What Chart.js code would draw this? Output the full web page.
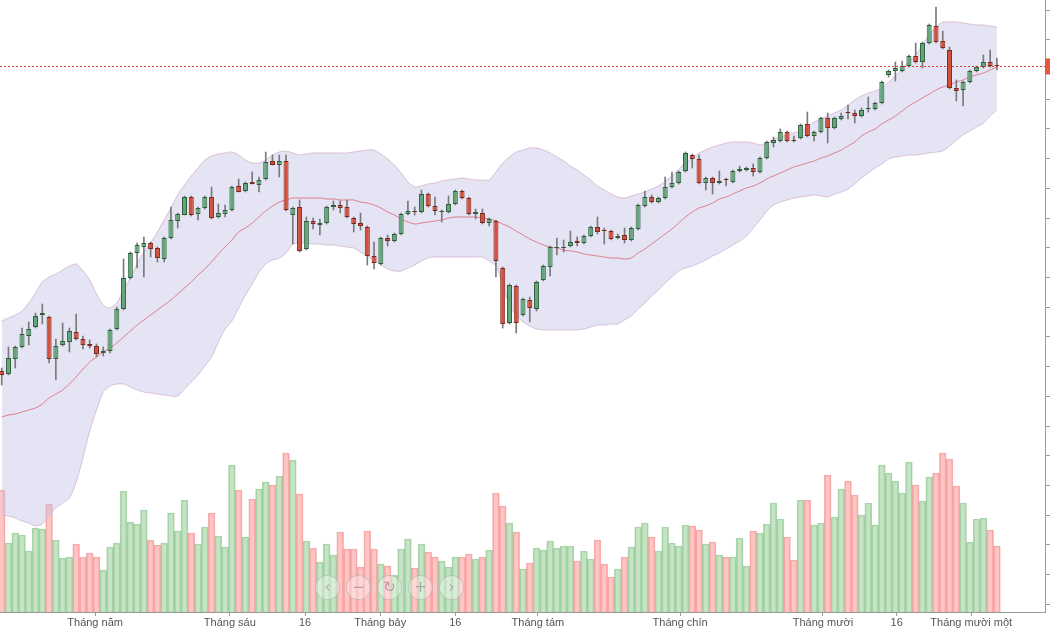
<!DOCTYPE html>
<html><head><meta charset="utf-8">
<script src="https://cdn.jsdelivr.net/npm/chart.js@4.4.1/dist/chart.umd.min.js"></script>
<style>
html,body{margin:0;padding:0;background:#fff;overflow:hidden;}
#wrap{position:relative;width:1050px;height:630px;}
canvas{display:block;}
.nav{position:absolute;top:575px;width:23px;height:23px;border-radius:50%;border:1px solid rgba(150,150,150,0.45);background:rgba(255,255,255,0.35);color:rgba(120,120,120,0.55);font:15px "DejaVu Sans",sans-serif;text-align:center;line-height:22px;}
</style></head>
<body><div id="wrap"><canvas id="c" width="1050" height="630"></canvas>
<div class="nav" style="left:315px">‹</div>
<div class="nav" style="left:346px">−</div>
<div class="nav" style="left:377px">↻</div>
<div class="nav" style="left:408px">+</div>
<div class="nav" style="left:439px">›</div>
</div>
<script>
const OPEN = [32.9,32.6,34.1,35.3,36.4,37.3,38.5,38.3,34.1,35.5,
35.8,36.8,36.1,35.6,35.4,34.7,34.9,37.1,39.1,42.2,
44.7,45.3,45.7,45.2,44.1,46.2,47.9,48.5,50.3,48.6,
49.2,50.3,48.3,48.6,49.0,51.4,50.9,51.8,51.5,52.1,
53.9,53.5,53.9,48.5,49.3,45.1,47.9,47.5,47.7,49.3,
49.5,49.3,48.2,47.7,47.3,44.4,43.6,46.2,45.9,46.6,
48.6,48.9,48.8,50.6,49.4,48.8,48.8,49.6,50.9,50.2,
48.6,48.7,47.7,47.9,43.2,37.7,41.4,38.5,40.0,39.1,
42.0,43.3,45.2,45.2,45.4,45.9,45.7,46.4,47.3,47.0,
46.9,46.2,46.5,46.0,47.1,49.4,50.3,49.8,50.2,51.3,
51.7,52.9,54.5,54.1,51.7,52.2,51.7,52.1,51.8,52.9,
53.0,53.2,52.8,54.2,55.7,55.9,56.8,56.0,56.2,57.6,
56.4,56.8,58.2,57.2,58.1,58.8,58.7,58.4,59.1,59.1,
59.7,62.5,62.9,62.9,63.4,64.4,63.8,65.7,67.4,65.9,
65.0,61.2,61.0,61.8,62.9,63.3,63.8,63.5];
const CLOSE = [32.5,34.2,35.3,36.6,37.1,38.4,38.7,34.1,35.4,35.9,
36.9,36.1,35.5,35.4,34.6,34.9,37.0,39.1,42.2,44.7,
45.5,45.7,45.1,44.2,46.2,48.0,48.6,50.3,48.5,49.2,
50.3,48.2,48.7,49.0,51.3,50.8,51.7,51.6,52.0,53.8,
53.5,53.9,49.0,49.2,44.9,47.9,47.6,47.7,49.3,49.5,
49.2,48.3,47.6,47.4,44.4,43.7,46.2,45.9,46.6,48.6,
48.9,48.8,50.6,49.4,48.9,48.9,49.6,50.9,50.2,48.6,
48.8,47.7,48.1,43.9,37.6,41.5,37.7,40.1,39.2,41.8,
43.4,45.3,45.3,45.3,45.8,45.7,46.4,47.3,46.8,46.9,
46.1,46.4,46.0,47.2,49.5,50.3,49.8,50.2,51.3,51.7,
52.8,54.7,54.1,51.7,52.2,51.7,51.9,52.0,52.9,53.1,
53.2,52.8,54.2,55.8,56.0,56.8,55.9,55.9,57.5,56.4,
56.8,58.2,57.2,58.2,58.4,58.7,58.4,59.0,59.2,59.7,
61.8,62.9,63.2,63.4,64.4,63.8,65.7,67.5,65.8,65.2,
61.2,60.9,61.8,62.9,63.3,63.8,63.4,63.4];
const HIGH = [33.2,35.3,35.4,37.2,37.8,38.7,39.6,38.4,36.1,37.7,
37.2,38.6,36.4,36.0,35.6,35.3,37.1,39.3,44.1,44.8,
45.7,46.3,45.8,45.3,46.3,49.3,48.7,50.4,50.4,49.3,
50.4,51.3,49.6,49.5,51.4,52.1,51.8,52.8,52.3,54.8,
54.5,54.5,54.5,49.3,50.0,48.3,48.2,48.1,49.4,49.9,
49.9,50.0,48.3,48.7,47.4,45.8,46.3,46.5,46.7,48.7,
49.9,49.3,51.0,50.7,50.3,49.0,50.4,51.0,51.0,50.3,
49.1,49.1,48.2,48.0,43.3,41.6,41.5,40.2,40.3,41.9,
43.5,45.4,46.2,46.0,46.9,46.3,46.5,47.4,48.3,47.2,
47.0,46.6,47.2,47.3,49.6,50.9,50.5,50.3,52.3,52.8,
52.9,54.8,54.6,54.5,52.3,52.3,52.9,52.2,53.0,53.4,
53.3,53.6,54.3,55.9,56.3,57.1,56.9,56.4,57.6,58.8,
56.9,58.3,58.7,58.3,58.7,59.5,59.0,59.2,60.3,59.8,
61.9,63.0,63.8,63.9,64.5,65.7,65.8,67.6,69.3,66.9,
65.3,62.0,61.9,63.0,63.4,64.5,65.0,64.2];
const LOW = [31.5,32.5,33.2,35.2,35.5,37.2,37.6,33.7,32.0,35.4,
34.8,36.0,35.1,35.2,34.3,34.4,34.7,37.0,39.0,42.1,
43.2,42.3,44.3,43.8,43.8,46.1,47.2,48.5,48.4,48.0,
49.1,48.1,48.2,48.3,48.9,50.8,50.8,51.6,50.8,52.0,
53.5,52.3,48.9,45.6,44.8,45.0,47.1,46.5,47.6,49.0,
48.7,48.2,46.8,47.0,43.5,43.1,43.5,45.4,45.8,46.5,
48.5,48.5,48.7,49.3,48.5,47.8,48.7,49.5,50.1,48.5,
48.1,47.6,47.4,42.3,37.2,37.6,36.7,38.4,37.8,38.9,
41.9,42.4,44.5,44.8,45.3,45.4,45.6,46.3,46.6,45.6,
46.0,46.1,45.7,45.9,47.0,49.3,49.7,49.7,50.1,51.2,
51.6,52.8,53.2,51.6,51.0,50.6,51.6,51.4,51.7,52.8,
52.9,52.4,52.7,54.1,55.3,55.8,55.8,55.8,56.1,56.3,
55.9,56.7,55.7,57.1,58.0,58.1,57.7,58.3,58.8,59.0,
59.6,62.3,61.9,62.8,63.3,63.7,63.2,65.6,65.7,65.1,
61.1,59.9,59.4,61.7,62.8,63.2,63.3,63.0];
const VOLUME = [1220,690,790,770,610,840,830,1080,720,540,
550,680,550,590,550,420,650,690,1210,900,
880,1020,720,670,690,990,810,1120,790,680,
850,990,760,650,1470,1220,750,1130,1230,1300,
1270,1360,1590,1520,1180,710,640,500,680,570,
800,630,630,450,810,630,480,460,370,630,
730,440,680,600,550,510,450,550,550,580,
530,550,620,1190,1060,890,800,430,490,640,
620,710,640,660,660,510,610,530,720,480,
350,430,550,650,850,890,750,610,850,690,
660,870,860,820,680,700,570,550,550,740,
460,810,790,880,1090,930,750,520,1120,1120,
870,890,1370,950,1230,1310,1170,970,1090,870,
1470,1390,1310,1190,1500,1270,1110,1350,1390,1590,
1530,1260,1090,700,930,940,820,660];
const BB_UPPER = [37.9,38.2,38.5,38.9,39.7,40.7,41.8,42.3,42.6,43.0,
43.4,43.6,42.9,42.0,40.6,39.5,39.2,39.7,41.0,42.2,
43.6,44.8,45.7,46.8,48.0,49.2,50.5,51.5,52.4,53.2,
54.0,54.4,54.6,54.7,54.8,54.5,54.0,53.7,53.7,54.0,
54.5,54.8,54.9,54.7,54.5,54.6,54.7,54.7,54.7,54.7,
54.7,54.7,54.8,54.9,55.0,55.0,54.6,54.1,53.5,52.7,
51.8,51.3,51.4,51.6,51.7,51.9,52.0,52.1,52.2,52.1,
52.0,52.0,52.0,52.8,53.7,54.3,54.8,55.0,55.2,55.2,
55.0,54.7,54.3,53.9,53.4,53.0,52.5,52.0,51.4,51.0,
50.6,50.3,50.2,50.4,50.6,50.8,51.1,51.4,51.9,52.4,
53.1,53.7,54.2,54.7,55.0,55.3,55.5,55.7,55.8,55.8,
55.8,55.7,55.5,55.7,56.1,56.3,56.5,56.7,56.9,57.3,
57.8,58.1,58.4,58.7,59.0,59.5,60.0,60.4,60.7,60.9,
61.2,61.8,62.4,63.1,63.9,64.5,65.5,66.5,67.3,67.8,
67.8,67.8,67.7,67.6,67.5,67.5,67.4,67.3];
const BB_MIDDLE = [28.3,28.5,28.6,28.8,29.0,29.2,29.6,30.2,30.6,31.0,
31.6,32.3,33.1,33.8,34.3,34.8,35.2,35.7,36.3,36.9,
37.5,38.0,38.5,39.0,39.5,40.0,40.6,41.2,41.8,42.5,
43.1,43.8,44.6,45.3,46.0,46.8,47.2,47.7,48.3,48.9,
49.4,49.8,50.0,50.2,50.2,50.2,50.2,50.2,50.1,50.1,
50.0,50.0,50.0,49.8,49.7,49.5,49.2,48.8,48.5,48.1,
47.8,47.6,47.7,47.8,47.9,48.0,48.2,48.3,48.3,48.3,
48.3,48.2,48.1,47.9,47.6,47.3,46.9,46.5,46.1,45.8,
45.5,45.3,45.2,45.0,44.9,44.8,44.6,44.5,44.4,44.3,
44.2,44.2,44.1,44.2,44.7,45.1,45.6,46.1,46.6,47.1,
47.7,48.3,48.8,49.2,49.4,49.7,50.1,50.3,50.6,50.9,
51.2,51.4,51.7,52.1,52.4,52.7,53.0,53.3,53.5,53.7,
53.9,54.2,54.4,54.7,55.0,55.4,55.8,56.4,56.8,57.1,
57.6,58.0,58.4,58.9,59.4,59.8,60.2,60.6,61.0,61.3,
61.5,61.8,62.0,62.3,62.5,62.7,63.0,63.3];
const BB_LOWER = [18.5,18.4,18.2,17.9,17.7,17.4,17.6,18.5,19.2,19.7,
20.2,21.8,24.2,26.9,29.0,30.8,31.4,31.6,31.6,31.3,
31.0,30.8,30.7,30.6,30.5,30.4,30.4,31.1,31.8,32.5,
33.4,34.3,35.8,37.1,37.9,39.2,40.5,41.6,42.8,43.6,
44.0,44.2,44.7,45.6,45.7,45.7,45.6,45.6,45.5,45.5,
45.4,45.3,45.2,44.8,44.4,44.0,43.5,43.1,42.9,42.9,
43.2,43.5,43.9,44.2,44.3,44.3,44.3,44.3,44.3,44.3,
44.3,44.3,43.9,43.4,41.5,39.5,38.5,37.8,37.4,37.1,
37.0,37.0,37.0,37.0,37.0,37.0,37.1,37.3,37.5,37.5,
37.6,37.6,38.0,38.4,39.1,39.7,40.4,41.0,41.7,42.3,
42.9,43.2,43.4,43.7,44.0,44.4,44.7,45.1,45.5,45.9,
46.4,47.2,48.0,48.9,49.5,49.8,50.0,50.2,50.3,50.4,
50.5,50.4,50.3,50.6,50.8,51.1,51.6,52.2,52.7,53.2,
53.6,54.1,54.3,54.4,54.5,54.5,54.6,54.7,54.8,54.9,
55.4,56.0,56.5,56.9,57.3,57.7,58.4,59.0];
const X_TICK_POS = [13.8, 33.7, 44.8, 55.9, 67.0, 79.2, 100.2, 121.3, 132.2, 143.2];
const X_TICK_LABELS = ['Tháng năm','Tháng sáu','16','Tháng bảy','16','Tháng tám','Tháng chín','Tháng mười','16','Tháng mười một'];

const DAY = OPEN.map((_, i) => i);
const up = i => CLOSE[i] >= OPEN[i];
const lastClose = CLOSE[CLOSE.length - 1];

const priceLine = {
  id: 'priceLine',
  afterDatasetsDraw(chart) {
    const c = chart.ctx, a = chart.chartArea;
    const y = Math.round(chart.scales.y.getPixelForValue(lastClose)) + 0.5;
    c.save();
    c.strokeStyle = '#e03b30';
    c.lineWidth = 1;
    c.setLineDash([2, 2]);
    c.beginPath(); c.moveTo(a.left, y); c.lineTo(a.right, y); c.stroke();
    c.setLineDash([]);
    c.fillStyle = '#e5573f';
    c.fillRect(a.right, y - 8, 12, 16);
    c.restore();
  }
};

new Chart(document.getElementById('c'), {
  type: 'bar',
  data: {
    labels: DAY,
    datasets: [
      { type: 'bar', label: 'Khối lượng', data: VOLUME, yAxisID: 'yv', grouped: false,
        barPercentage: 1, categoryPercentage: 1,
        backgroundColor: DAY.map(i => up(i) ? 'rgba(140,202,140,0.5)' : 'rgba(255,140,140,0.5)'),
        borderColor: DAY.map(i => up(i) ? 'rgba(120,185,120,0.6)' : 'rgba(235,125,125,0.6)'),
        borderWidth: 1, borderSkipped: 'start', order: 10 },
      { type: 'line', label: 'BB trên', data: BB_UPPER, yAxisID: 'y', borderColor: 'rgba(215,175,200,0.8)',
        borderWidth: 1, pointRadius: 0, tension: 0.25, fill: '+1', backgroundColor: 'rgba(190,190,228,0.42)', order: 6 },
      { type: 'line', label: 'BB dưới', data: BB_LOWER, yAxisID: 'y', borderColor: 'rgba(215,175,200,0.8)',
        borderWidth: 1, pointRadius: 0, tension: 0.25, fill: false, order: 6 },
      { type: 'line', label: 'BB giữa', data: BB_MIDDLE, yAxisID: 'y', borderColor: 'rgba(225,105,115,0.85)',
        borderWidth: 1, pointRadius: 0, tension: 0.25, fill: false, order: 5 },
      { type: 'bar', label: 'Bóng nến', data: DAY.map(i => [LOW[i], HIGH[i]]), yAxisID: 'y', grouped: false,
        barThickness: 1, backgroundColor: '#7a7a7a', borderWidth: 0, order: 2 },
      { type: 'bar', label: 'Thân nến', data: DAY.map(i => [OPEN[i], CLOSE[i]]), yAxisID: 'y', grouped: false,
        barPercentage: 0.74, categoryPercentage: 1,
        backgroundColor: DAY.map(i => up(i) ? '#62a679' : '#d4503d'),
        borderColor: DAY.map(i => up(i) ? '#2f5e3d' : '#7a2a20'),
        borderWidth: 1, borderSkipped: false, order: 1 }
    ]
  },
  options: {
    responsive: false, animation: false, devicePixelRatio: 1,
    layout: { padding: 0 },
    plugins: { legend: { display: false }, tooltip: { enabled: false } },
    scales: {
      x: {
        type: 'linear', min: -0.25, max: 154.1, offset: false,
        afterBuildTicks: s => { s.ticks = X_TICK_POS.map(v => ({ value: v })); },
        afterFit: s => { s.height = 18; },
        ticks: { autoSkip: false, maxRotation: 0, padding: 1, color: '#555',
          font: { family: '"Liberation Sans", Arial, sans-serif', size: 11, lineHeight: 1 },
          callback: (v, i) => X_TICK_LABELS[i] },
        grid: { offset: false, drawOnChartArea: false, drawTicks: true, tickLength: 4, color: '#999' },
        border: { color: '#999' }
      },
      y: {
        type: 'linear', position: 'right', min: 8.8, max: 70,
        afterBuildTicks: s => { const t = []; for (let k = 0; k <= 20; k++) t.push({ value: 69 - 2.972 * k }); s.ticks = t; },
        ticks: { display: false },
        grid: { drawOnChartArea: false, drawTicks: true, tickLength: 5, color: '#999' },
        border: { color: '#999' }
      },
      yv: { type: 'linear', display: false, min: 0, max: 6120 }
    }
  },
  plugins: [priceLine]
});
</script>
</body></html>
